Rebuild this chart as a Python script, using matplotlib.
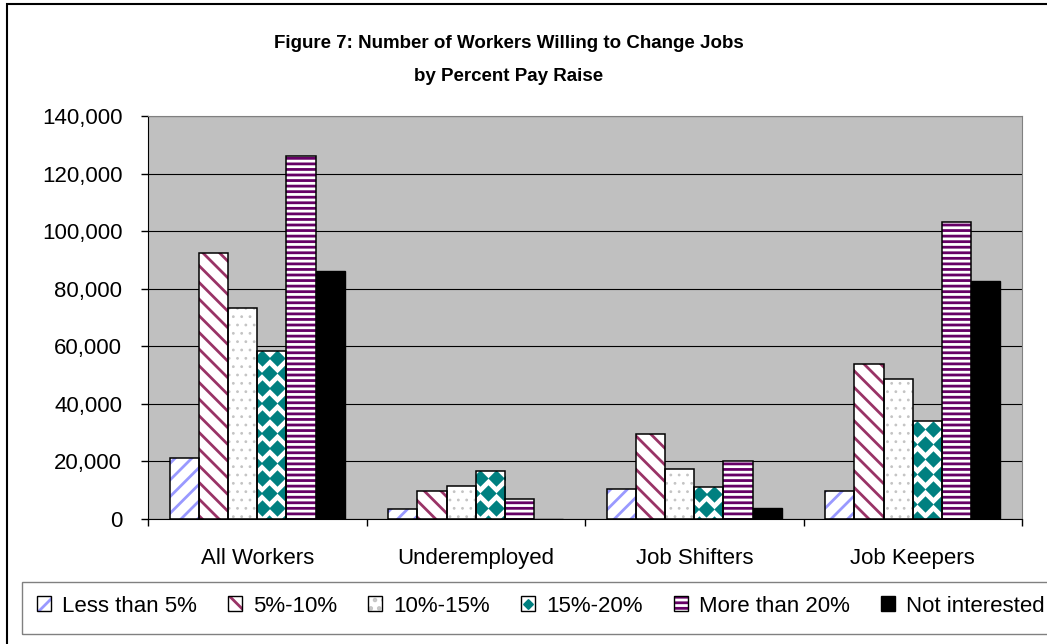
import numpy as np
import matplotlib
matplotlib.use("Agg")
import matplotlib.pyplot as plt
from matplotlib.patches import Rectangle, Patch
from matplotlib.lines import Line2D
from matplotlib.legend_handler import HandlerTuple
from matplotlib.ticker import MultipleLocator, FuncFormatter

plt.rcParams['font.family'] = ['Liberation Sans', 'DejaVu Sans']
plt.rcParams['hatch.linewidth'] = 2.0

groups = ['All Workers', 'Underemployed', 'Job Shifters', 'Job Keepers']
raise_labels = ['Less than 5%', '5%-10%', '10%-15%', '15%-20%', 'More than 20%', 'Not interested']

less_5 = [21300, 3400, 10300, 9600]
pct_5_10 = [92500, 9700, 29500, 53900]
pct_10_15 = [73200, 11300, 17300, 48700]
pct_15_20 = [58500, 16700, 11200, 34000]
more_20 = [126200, 6800, 20100, 103100]
not_interested = [86100, 0, 3900, 82800]

series = [less_5, pct_5_10, pct_10_15, pct_15_20, more_20, not_interested]

# fill style per series: (face, hatch, hatch colour, hatch width)
styles = [
    ('white', '//', '#9999FF', 2.0),
    ('white', '\\\\', '#993366', 2.0),
    ('white', '..', '#C4C4C4', 0.8),
    ('white', 'diamonds', '#008080', 0),
    ('white', '---', '#660066', 2.0),
    ('black', None, None, 0),
]


def hatched_bar(ax, xs, vals, w, face, hatch, hc, hw):
    bars = ax.bar(xs, vals, w, color=face, edgecolor=hc, hatch=hatch,
                  linewidth=0, zorder=2)
    for b in bars:
        if hasattr(b, 'set_hatch_linewidth'):
            b.set_hatch_linewidth(hw)
    return bars


W, H = 1047, 644
fig = plt.figure(figsize=(W / 100, H / 100), dpi=100)
ax = fig.add_axes([148 / W, 1 - 519 / H, 874 / W, 403 / H])
ax.set_facecolor('#C0C0C0')
ax.set_xlim(-0.5, 3.5)
ax.set_ylim(0, 140000)

x = np.arange(len(groups))
w = 1 / 7.5

# pixel scale of the data axes, used for the diamond texture
p0 = ax.transData.transform((0, 0))
p1 = ax.transData.transform((1, 1000))
px_x = p1[0] - p0[0]
px_y = (p1[1] - p0[1]) / 1000.0

for i, (vals, (face, hatch, hc, hw)) in enumerate(zip(series, styles)):
    xs = x + (i - 2.5) * w
    if hatch is None:
        ax.bar(xs, vals, w, color=face, edgecolor='black', linewidth=1.0, zorder=3)
        continue
    if hatch == 'diamonds':
        base = ax.bar(xs, vals, w, color='white', linewidth=0, zorder=2)
        pitch_x, pitch_y = 15.6 / px_x, 15.0 / px_y
        for xc, v, patch in zip(xs, vals, base):
            cols = np.arange(-1, int(w / pitch_x) + 3)
            rows = np.arange(0, int(v / pitch_y) + 2)
            cx, ry = np.meshgrid(cols, rows)
            px = xc - w / 2 + (cx + 0.5 * (ry % 2) - 0.1) * pitch_x + 6 / px_x
            py = v - (ry + 0.5) * pitch_y
            sc = ax.scatter(px.ravel(), py.ravel(), s=140, marker=(4, 0, 0),
                            color=hc, linewidths=0, zorder=2.5)
            sc.set_clip_path(patch)
    else:
        hatched_bar(ax, xs, vals, w, face, hatch, hc, hw)
    ax.bar(xs, vals, w, facecolor='none', edgecolor='black', linewidth=1.1, zorder=3)

ax.yaxis.set_major_locator(MultipleLocator(20000))
ax.yaxis.set_major_formatter(FuncFormatter(lambda v, p: f'{v:,.0f}'))
ax.yaxis.grid(True, color='black', linewidth=0.8)
ax.set_axisbelow(True)

ax.set_xticks(x)
ax.set_xticklabels(groups)
ax.set_xticks(np.arange(-0.5, 4, 1), minor=True)
ax.tick_params(axis='x', which='major', length=0, pad=21, labelsize=16)
ax.tick_params(axis='x', which='minor', direction='out', length=5, width=1)
ax.tick_params(axis='y', direction='out', length=5, width=1, pad=13.5, labelsize=16)

ax.spines['left'].set_color('black')
ax.spines['bottom'].set_color('black')
ax.spines['top'].set_color('#808080')
ax.spines['right'].set_color('#808080')

fig.text(509 / W, 1 - 48 / H, 'Figure 7: Number of Workers Willing to Change Jobs',
         ha='center', va='baseline', fontsize=13.5, fontweight='bold')
fig.text(509 / W, 1 - 81 / H, 'by Percent Pay Raise',
         ha='center', va='baseline', fontsize=13.5, fontweight='bold')

# chart frame and legend box
fig.add_artist(Rectangle((7 / W, -0.2), 1.3, 1.2 - 4 / H, transform=fig.transFigure,
                         fill=False, edgecolor='black', linewidth=1.5))
fig.add_artist(Rectangle((22 / W, 1 - 634 / H), 1.1, 52 / H, transform=fig.transFigure,
                         fill=False, edgecolor='#808080', linewidth=1.0))

handles = []
for face, hatch, hc, hw in styles:
    outline = Patch(facecolor='none', edgecolor='black', linewidth=1.0)
    if hatch is None:
        handles.append(Patch(facecolor=face, edgecolor='black', linewidth=1.0))
    elif hatch == 'diamonds':
        handles.append((Patch(facecolor='white', linewidth=0),
                        Line2D([], [], marker=(4, 0, 0), markersize=7, color=hc,
                               linestyle='none'),
                        outline))
    else:
        hp = Patch(facecolor='white', edgecolor=hc, hatch=hatch, linewidth=0)
        if hasattr(hp, 'set_hatch_linewidth'):
            hp.set_hatch_linewidth(hw)
        handles.append((hp, outline))

fig.legend(handles, raise_labels, ncol=6, loc='center left',
           bbox_to_anchor=(37 / W, 1 - 606 / H), frameon=False, fontsize=16,
           handlelength=0.63, handleheight=0.63, handletextpad=0.5,
           columnspacing=1.4, borderpad=0, borderaxespad=0,
           handler_map={tuple: HandlerTuple(ndivide=1, pad=0)})

fig.savefig('out.png', dpi=100)
